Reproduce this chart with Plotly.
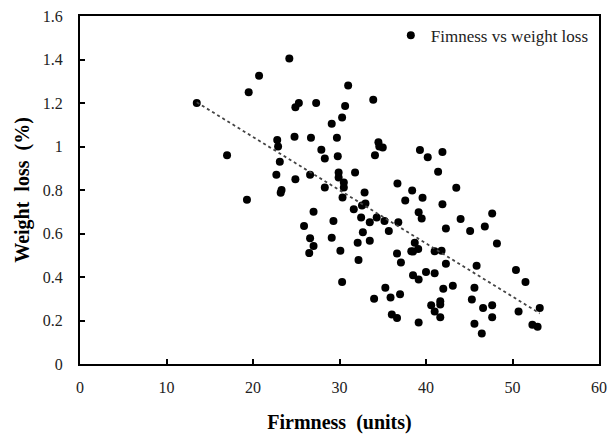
import numpy as np
import plotly.graph_objects as go

firmness = [13.5, 17.0, 19.3, 19.5, 20.7, 24.2, 22.8, 22.9, 23.1, 22.7, 23.3, 23.2,
            24.9, 25.3, 24.8, 24.9, 26.7, 26.6, 27.3, 27.0, 25.9, 26.6, 27.0, 26.5,
            27.9, 28.3, 28.3, 29.1, 29.7, 29.8, 29.9, 29.9, 29.3, 29.1, 30.1, 30.3,
            30.3, 30.65, 31.0, 30.5, 30.5, 30.35, 31.8, 31.65, 32.6, 33.0, 32.9, 32.5,
            32.7, 32.1, 32.2, 33.5, 33.5, 33.9, 34.5, 34.6, 35.0, 34.1, 34.3, 35.2,
            35.7, 35.3, 34.0, 35.9, 36.7, 36.8, 36.65, 37.1, 37.0, 36.05, 36.65, 37.6,
            38.4, 38.7, 38.3, 38.5, 39.1, 38.5, 39.15, 39.15, 39.3, 39.6, 39.15, 39.5,
            40.2, 40.0, 40.6, 41.0, 41.0, 41.0, 41.4, 41.9, 41.9, 41.8, 42.3, 42.3,
            42.0, 41.65, 41.65, 41.65, 43.5, 44.0, 43.1, 45.1, 45.85, 45.6, 45.3, 45.6,
            46.45, 46.6, 46.8, 47.65, 47.65, 47.65, 48.2, 50.4, 51.5, 50.7, 53.15, 52.3,
            52.9]
weight_loss = [1.20, 0.96, 0.755, 1.25, 1.325, 1.405, 1.03, 1.00, 0.93, 0.87, 0.80, 0.787,
               1.18, 1.20, 1.045, 0.85, 1.04, 0.87, 1.20, 0.70, 0.635, 0.578, 0.543, 0.51,
               0.985, 0.945, 0.812, 1.105, 1.04, 0.955, 0.88, 0.858, 0.658, 0.581, 0.521, 0.377,
               1.133, 1.186, 1.28, 0.834, 0.812, 0.766, 0.88, 0.712, 0.729, 0.738, 0.789, 0.674,
               0.606, 0.558, 0.478, 0.652, 0.567, 1.215, 1.02, 1.00, 0.995, 0.96, 0.674, 0.658,
               0.612, 0.351, 0.30, 0.306, 0.83, 0.652, 0.508, 0.467, 0.321, 0.228, 0.212, 0.752,
               0.798, 0.558, 0.518, 0.517, 0.529, 0.408, 0.388, 0.191, 0.984, 0.764, 0.698, 0.669,
               0.951, 0.423, 0.27, 0.518, 0.417, 0.241, 0.884, 0.975, 0.734, 0.521, 0.623, 0.461,
               0.346, 0.289, 0.274, 0.215, 0.81, 0.667, 0.36, 0.612, 0.452, 0.351, 0.297, 0.185,
               0.14, 0.257, 0.632, 0.692, 0.27, 0.215, 0.554, 0.432, 0.377, 0.241, 0.257, 0.181,
               0.171]

x_ticks = [0, 10, 20, 30, 40, 50, 60]
y_ticks = [0, 0.2, 0.4, 0.6, 0.8, 1.0, 1.2, 1.4, 1.6]
y_tick_labels = ["0", "0.2", "0.4", "0.6", "0.8", "1", "1.2", "1.4", "1.6"]

xa = np.array(firmness)
ya = np.array(weight_loss)
slope, intercept = np.polyfit(xa, ya, 1)
tx = np.array([xa.min(), xa.max()])
ty = slope * tx + intercept

fig = go.Figure()
fig.add_trace(go.Scatter(
    x=firmness, y=weight_loss, mode="markers",
    marker=dict(color="black", size=8),
    name="Fimness vs weight loss",
))
fig.add_trace(go.Scatter(
    x=tx, y=ty, mode="lines",
    line=dict(color="#444444", width=1.8, dash="dot"),
    showlegend=False, hoverinfo="skip",
))

serif = "Liberation Serif"
fig.update_layout(
    width=608, height=434,
    margin=dict(l=80, r=9, t=16, b=70),
    paper_bgcolor="white", plot_bgcolor="white",
    font=dict(family=serif, color="#222222"),
    legend=dict(x=0.99, xanchor="right", y=0.995, yanchor="top",
                bgcolor="rgba(0,0,0,0)", font=dict(family=serif, size=17, color="#222222"),
                itemwidth=30, tracegroupgap=0),
    xaxis=dict(range=[0, 60], tickvals=x_ticks, ticks="inside", ticklen=5,
               tickwidth=2, tickcolor="black",
               showline=True, linecolor="black", linewidth=2, mirror=True,
               showgrid=False, zeroline=False, automargin=False,
               ticklabeloverflow="allow",
               tickfont=dict(family=serif, size=16, color="#222222"),
               ticklabelstandoff=8,
               title=dict(text="<b>Firmness  (units)</b>", standoff=22,
                          font=dict(family=serif, size=20, color="black"))),
    yaxis=dict(range=[0, 1.6], tickvals=y_ticks, ticktext=y_tick_labels,
               ticks="inside", ticklen=5, tickwidth=2, tickcolor="black",
               showline=True, linecolor="black", linewidth=2, mirror=True,
               showgrid=False, zeroline=False, automargin=False,
               ticklabeloverflow="allow",
               tickfont=dict(family=serif, size=16, color="#222222"),
               ticklabelstandoff=12,
               title=dict(text="<b>Weight  loss  (%)</b>", standoff=8,
                          font=dict(family=serif, size=20, color="black"))),
)

fig.write_html(
    "out.html",
    config={"displayModeBar": False},
    post_script="document.body.style.margin='0';document.body.style.overflow='hidden';",
)
